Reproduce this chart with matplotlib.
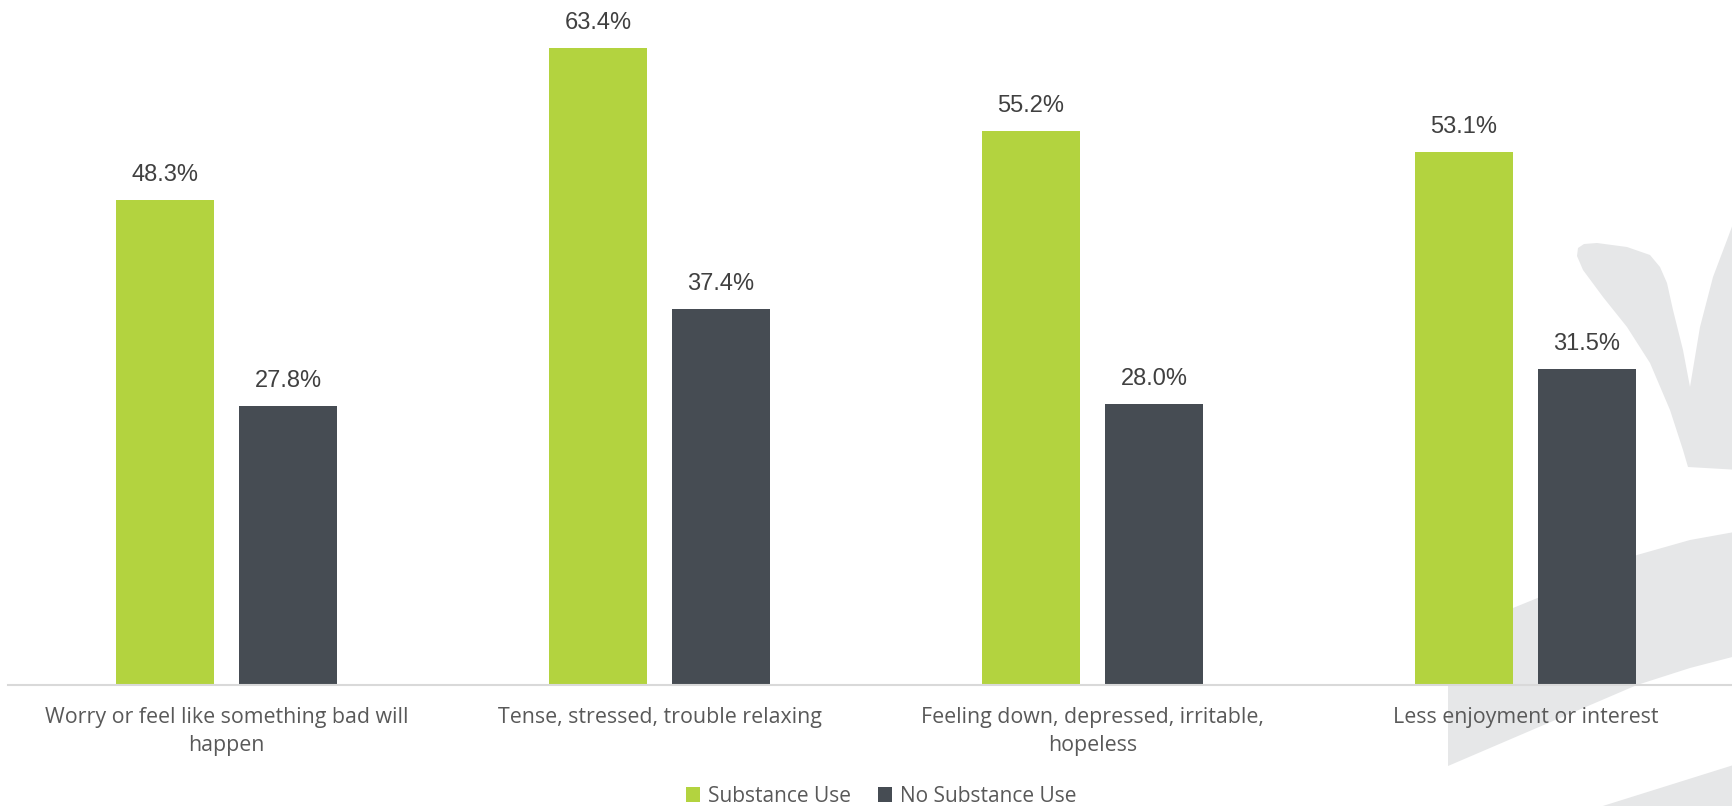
import matplotlib.pyplot as plt
import numpy as np
from matplotlib.patches import Polygon

categories = ["Worry or feel like something bad will\nhappen",
              "Tense, stressed, trouble relaxing",
              "Feeling down, depressed, irritable,\nhopeless",
              "Less enjoyment or interest"]
substance_use = [48.3, 63.4, 55.2, 53.1]
no_substance_use = [27.8, 37.4, 28.0, 31.5]
series_names = ["Substance Use", "No Substance Use"]

GREEN = "#B3D33F"
DARK = "#464C53"
SHAPE = "#E6E7E8"

W, H = 1732, 806
fig = plt.figure(figsize=(W / 100, H / 100), dpi=100)

# decorative light-gray background shapes (pixel coords, y down)
bg = fig.add_axes([0, 0, 1, 1], zorder=0)
bg.set_xlim(0, W)
bg.set_ylim(H, 0)
bg.axis("off")
v_shape = [(1688, 467), (1683, 450), (1670, 410), (1650, 363), (1627, 327),
           (1603, 297), (1583, 270), (1577, 256), (1578, 248), (1584, 244),
           (1597, 243), (1627, 247), (1650, 255), (1660, 267), (1667, 283),
           (1673, 310), (1683, 350), (1690, 387), (1700, 327), (1713, 277),
           (1727, 240), (1740, 205), (1740, 470)]
band = [(1448, 638), (1513, 608), (1540, 597), (1637, 555), (1690, 540),
        (1740, 531), (1740, 655), (1690, 668), (1637, 685), (1448, 766)]
wedge = [(1590, 810), (1740, 763), (1740, 810)]
for pts in (v_shape, band, wedge):
    bg.add_patch(Polygon(pts, closed=True, facecolor=SHAPE, edgecolor="none"))

# main chart
ax = fig.add_axes([10 / W, 121 / H, 1732 / W, 685 / H], zorder=1)
ax.patch.set_alpha(0)
x = np.arange(len(categories))
bw = 0.226
off = 0.142
b1 = ax.bar(x - off, substance_use, bw, color=GREEN, label=series_names[0])
b2 = ax.bar(x + off, no_substance_use, bw, color=DARK, label=series_names[1])

for bars, vals in ((b1, substance_use), (b2, no_substance_use)):
    for rect, v in zip(bars, vals):
        ax.annotate(f"{v:.1f}%", (rect.get_x() + rect.get_width() / 2, v),
                    xytext=(0, 10), textcoords="offset points",
                    ha="center", va="bottom", fontsize=17,
                    family="Liberation Sans", color="#404040")

ax.set_xlim(-0.5, 3.5)
ax.set_ylim(0, 68.2)
ax.set_xticks(x)
ax.set_xticklabels(categories, fontsize=15.4, family="Open Sans", color="#595959",
                   linespacing=1.45)
ax.tick_params(axis="x", length=0, pad=16)
ax.set_yticks([])
for s in ("left", "right", "top"):
    ax.spines[s].set_visible(False)
ax.spines["bottom"].set_color("#D9D9D9")
ax.spines["bottom"].set_linewidth(1.5)
ax.spines["bottom"].set_bounds(-0.5 - 2 / 433, 3.6)

leg = fig.legend(handles=[b1, b2], labels=series_names, loc="center",
                 bbox_to_anchor=(881 / W, 1 - 796 / H), ncol=2, frameon=False,
                 handlelength=0.7, handleheight=0.7, handletextpad=0.35,
                 columnspacing=1.3, prop={"family": "Open Sans", "size": 15})
for t in leg.get_texts():
    t.set_color("#595959")

fig.savefig("out.png", dpi=100)
